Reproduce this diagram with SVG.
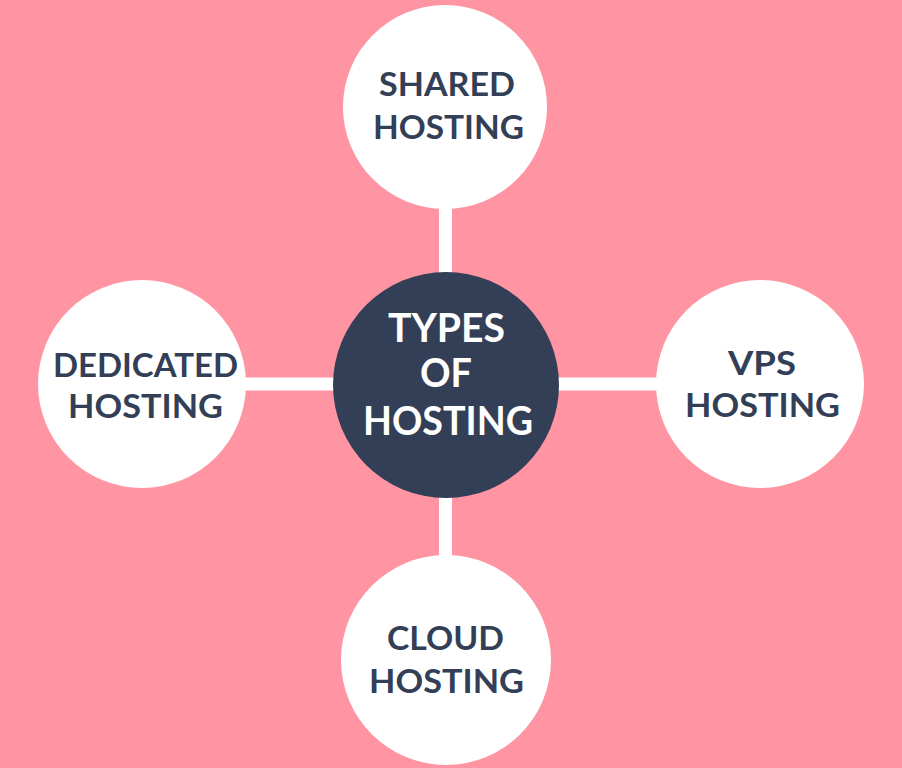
<svg xmlns="http://www.w3.org/2000/svg" width="902" height="768" viewBox="0 0 902 768">
<style>
.node{fill:#ffffff}
.hub{fill:#333f57}
.t{font-family:Lato,"Open Sans","Liberation Sans",sans-serif;font-weight:700;text-anchor:middle;fill:#333f57;font-size:33px}
.tc{font-family:Lato,"Open Sans","Liberation Sans",sans-serif;font-weight:700;text-anchor:middle;fill:#ffffff;font-size:40px}
.c{stroke:#ffffff;stroke-width:13;fill:none}
</style>
<rect width="902" height="768" fill="#ff94a3"/>
<g id="connectors">
<line class="c" x1="445.5" y1="205" x2="445.5" y2="275"/>
<line class="c" x1="445.5" y1="495" x2="445.5" y2="558"/>
<line class="c" x1="244" y1="384" x2="334" y2="384"/>
<line class="c" x1="558" y1="384" x2="659" y2="384"/>
</g>
<g id="shared">
<circle class="node" cx="445" cy="107" r="102"/>
<text class="t" x="447" y="96" textLength="136" lengthAdjust="spacingAndGlyphs">SHARED</text>
<text class="t" x="448.5" y="139" textLength="151" lengthAdjust="spacingAndGlyphs">HOSTING</text>
</g>
<g id="dedicated">
<circle class="node" cx="142" cy="384" r="104"/>
<text class="t" x="145.5" y="377" textLength="185" lengthAdjust="spacingAndGlyphs">DEDICATED</text>
<text class="t" x="145.5" y="418" textLength="155" lengthAdjust="spacingAndGlyphs">HOSTING</text>
</g>
<g id="vps">
<circle class="node" cx="760" cy="384" r="104"/>
<text class="t" x="762" y="375" textLength="68" lengthAdjust="spacingAndGlyphs">VPS</text>
<text class="t" x="762.5" y="417" textLength="155" lengthAdjust="spacingAndGlyphs">HOSTING</text>
</g>
<g id="cloud">
<circle class="node" cx="446" cy="660" r="105"/>
<text class="t" x="445.5" y="650" textLength="117" lengthAdjust="spacingAndGlyphs">CLOUD</text>
<text class="t" x="446.5" y="693" textLength="155" lengthAdjust="spacingAndGlyphs">HOSTING</text>
</g>
<g id="types">
<circle class="hub" cx="446" cy="385" r="113"/>
<text class="tc" x="446.5" y="342" textLength="117" lengthAdjust="spacingAndGlyphs">TYPES</text>
<text class="tc" x="446" y="387" textLength="52" lengthAdjust="spacingAndGlyphs">OF</text>
<text class="tc" x="448" y="435" textLength="170" lengthAdjust="spacingAndGlyphs">HOSTING</text>
</g>
</svg>
